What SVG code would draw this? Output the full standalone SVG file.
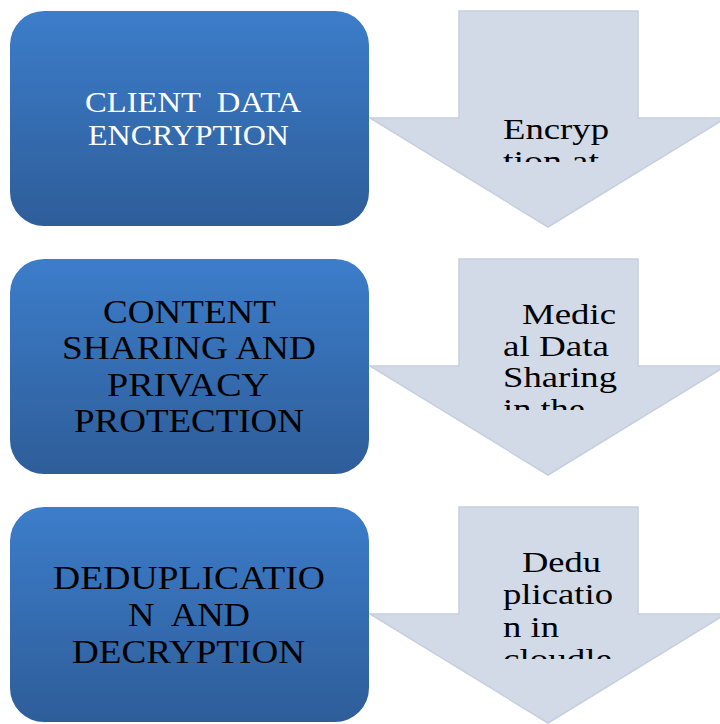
<svg xmlns="http://www.w3.org/2000/svg" width="720" height="724" viewBox="0 0 720 724">
<defs>
<linearGradient id="blue" x1="0" y1="0" x2="0" y2="1">
<stop offset="0" stop-color="#3c7dca"/>
<stop offset="1" stop-color="#2e5d99"/>
</linearGradient>
<clipPath id="c1"><rect x="490" y="100" width="140" height="62"/></clipPath>
<clipPath id="c2"><rect x="490" y="290" width="140" height="120"/></clipPath>
<clipPath id="c3"><rect x="490" y="540" width="140" height="119"/></clipPath>
</defs>
<style>
.box{fill:url(#blue);}
.arrow{fill:#d3dae7;stroke:#c6cfde;stroke-width:1.5;}
text{font-family:'Liberation Serif','Times New Roman',Times,serif;}
.w{fill:#ffffff;font-size:30px;}
.k{fill:#000000;font-size:34px;}
.at{fill:#000000;font-size:30px;}
</style>
<g id="connectors">
<g id="arrow1">
<path class="arrow" d="M459,11 H638 V118 H726 L548,227 L370,118 H459 Z"/>
<g clip-path="url(#c1)" class="at" font-family="Liberation Serif, serif">
<text x="503" y="139" textLength="106" lengthAdjust="spacingAndGlyphs">Encryp</text>
<text x="503" y="171" textLength="96" lengthAdjust="spacingAndGlyphs">tion at</text>
</g>
</g>
<g id="arrow2">
<path class="arrow" d="M459,259 H638 V366 H726 L548,475 L370,366 H459 Z"/>
<g clip-path="url(#c2)" class="at">
<text x="522" y="324" textLength="94" lengthAdjust="spacingAndGlyphs">Medic</text>
<text x="503" y="356" textLength="106" lengthAdjust="spacingAndGlyphs">al Data</text>
<text x="503" y="387" textLength="114" lengthAdjust="spacingAndGlyphs">Sharing</text>
<text x="503" y="419" textLength="82" lengthAdjust="spacingAndGlyphs">in the</text>
</g>
</g>
<g id="arrow3">
<path class="arrow" d="M459,507 H638 V614 H726 L548,723 L370,614 H459 Z"/>
<g clip-path="url(#c3)" class="at">
<text x="522" y="572" textLength="79" lengthAdjust="spacingAndGlyphs">Dedu</text>
<text x="503" y="604" textLength="110" lengthAdjust="spacingAndGlyphs">plicatio</text>
<text x="503" y="637" textLength="56" lengthAdjust="spacingAndGlyphs">n in</text>
<text x="503" y="669" textLength="109" lengthAdjust="spacingAndGlyphs">cloudle</text>
</g>
</g>
</g>
<g id="node1">
<rect class="box" x="10" y="11" width="359" height="215" rx="34" ry="34"/>
<text class="w" x="85" y="112" textLength="216" lengthAdjust="spacingAndGlyphs" xml:space="preserve">CLIENT  DATA</text>
<text class="w" x="88" y="145" textLength="201" lengthAdjust="spacingAndGlyphs">ENCRYPTION</text>
</g>
<g id="node2">
<rect class="box" x="10" y="259" width="359" height="215" rx="34" ry="34"/>
<text class="k" x="103" y="323" textLength="173" lengthAdjust="spacingAndGlyphs">CONTENT</text>
<text class="k" x="62" y="359" textLength="254" lengthAdjust="spacingAndGlyphs">SHARING AND</text>
<text class="k" x="107" y="396" textLength="162" lengthAdjust="spacingAndGlyphs">PRIVACY</text>
<text class="k" x="74" y="432" textLength="230" lengthAdjust="spacingAndGlyphs">PROTECTION</text>
</g>
<g id="node3">
<rect class="box" x="10" y="507" width="359" height="215" rx="34" ry="34"/>
<text class="k" x="53" y="589" textLength="272" lengthAdjust="spacingAndGlyphs">DEDUPLICATIO</text>
<text class="k" x="128" y="626" textLength="122" lengthAdjust="spacingAndGlyphs" xml:space="preserve">N  AND</text>
<text class="k" x="72" y="663" textLength="233" lengthAdjust="spacingAndGlyphs">DECRYPTION</text>
</g>
</svg>
